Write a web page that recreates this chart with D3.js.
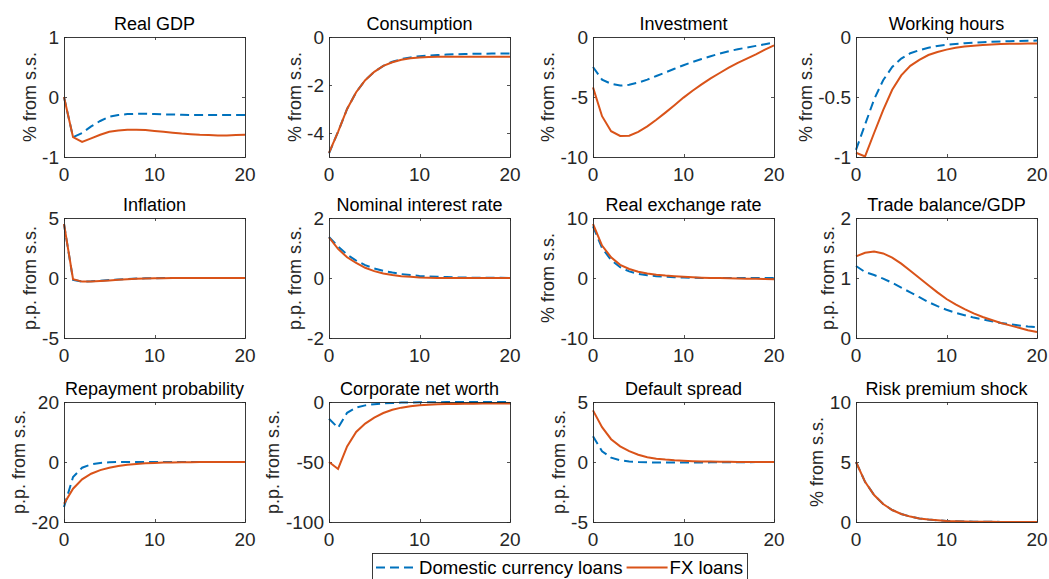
<!DOCTYPE html>
<html>
<head>
<meta charset="utf-8">
<script src="https://cdn.jsdelivr.net/npm/d3@7"></script>
<style>
  body { margin: 0; background: #fff; }
  svg { display: block; font-family: "Liberation Sans", Arial, Helvetica, sans-serif; }
</style>
</head>
<body>
<div id="chart"></div>
<script>
// horizon (quarters after the shock)
var horizon = [0,1,2,3,4,5,6,7,8,9,10,11,12,13,14,15,16,17,18,19,20];

var titles = ["Real GDP", "Consumption", "Investment", "Working hours",
  "Inflation", "Nominal interest rate", "Real exchange rate", "Trade balance/GDP",
  "Repayment probability", "Corporate net worth", "Default spread", "Risk premium shock"];

var yLabels = ["% from s.s.", "% from s.s.", "% from s.s.", "% from s.s.",
  "p.p. from s.s.", "p.p. from s.s.", "% from s.s.", "p.p. from s.s.",
  "p.p. from s.s.", "p.p. from s.s.", "p.p. from s.s.", "% from s.s."];

var yDomains = [[-1, 1], [-5, 0], [-10, 0], [-1, 0],
  [-5, 5], [-2, 2], [-10, 10], [0, 2],
  [-20, 20], [-100, 0], [-5, 5], [0, 10]];

var yTicks = [[-1, 0, 1], [-4, -2, 0], [-10, -5, 0], [-1, -0.5, 0],
  [-5, 0, 5], [-2, 0, 2], [-10, 0, 10], [0, 1, 2],
  [-20, 0, 20], [-100, -50, 0], [-5, 0, 5], [0, 5, 10]];

var xTicks = [0, 10, 20];
var seriesNames = ["Domestic currency loans", "FX loans"];

// domestic currency loans
var realGdpDom = [0, -0.67, -0.6, -0.49, -0.4, -0.33, -0.3, -0.285, -0.28, -0.28, -0.285, -0.29, -0.29, -0.295, -0.3, -0.3, -0.3, -0.3, -0.3, -0.3, -0.3];
var consumptionDom = [-4.85, -3.95, -3.0, -2.3, -1.8, -1.45, -1.2, -1.03, -0.92, -0.85, -0.8, -0.77, -0.75, -0.73, -0.72, -0.71, -0.7, -0.7, -0.69, -0.69, -0.69];
var investmentDom = [-2.5, -3.55, -3.9, -4.05, -3.98, -3.8, -3.55, -3.25, -2.95, -2.65, -2.35, -2.08, -1.83, -1.6, -1.38, -1.18, -1.02, -0.88, -0.74, -0.6, -0.45];
var hoursDom = [-0.94, -0.73, -0.52, -0.36, -0.25, -0.18, -0.135, -0.11, -0.09, -0.075, -0.065, -0.058, -0.052, -0.047, -0.043, -0.04, -0.037, -0.035, -0.033, -0.031, -0.03];
var inflationDom = [4.5, -0.15, -0.3, -0.28, -0.22, -0.17, -0.12, -0.08, -0.05, -0.03, -0.02, -0.01, 0, 0, 0, 0, 0, 0, 0, 0, 0];
var nominalDom = [1.37, 1.05, 0.78, 0.58, 0.43, 0.32, 0.24, 0.18, 0.13, 0.1, 0.07, 0.05, 0.04, 0.03, 0.02, 0.015, 0.01, 0.01, 0.005, 0.005, 0];
var rerDom = [8.6, 5.0, 3.0, 1.8, 1.1, 0.7, 0.45, 0.3, 0.2, 0.12, 0.07, 0.04, 0.02, 0.01, 0, 0, 0, 0, 0, 0, 0];
var tradeDom = [1.2, 1.1, 1.05, 0.99, 0.92, 0.84, 0.76, 0.68, 0.6, 0.53, 0.47, 0.42, 0.38, 0.34, 0.31, 0.28, 0.25, 0.23, 0.21, 0.19, 0.18];
var repayDom = [-15, -5, -1.9, -0.8, -0.3, -0.1, 0, 0, 0, 0, 0, 0, 0, 0, 0, 0, 0, 0, 0, 0, 0];
var netWorthDom = [-14, -21.5, -9, -4.7, -2.8, -1.8, -1.2, -0.8, -0.5, -0.35, -0.25, -0.2, -0.15, -0.1, -0.1, -0.05, -0.05, 0, 0, 0, 0];
var spreadDom = [2.15, 0.9, 0.36, 0.15, 0.05, 0, -0.03, -0.05, -0.05, -0.05, -0.05, -0.04, -0.04, -0.03, -0.03, -0.02, -0.02, -0.02, -0.01, -0.01, -0.01];
var riskDom = [5.0, 3.35, 2.25, 1.5, 1.0, 0.67, 0.45, 0.3, 0.2, 0.14, 0.09, 0.06, 0.04, 0.03, 0.02, 0.013, 0.009, 0.006, 0.004, 0.003, 0.002];

// FX loans
var realGdpFx = [0, -0.67, -0.75, -0.69, -0.63, -0.58, -0.56, -0.545, -0.545, -0.55, -0.565, -0.58, -0.595, -0.61, -0.62, -0.63, -0.635, -0.64, -0.64, -0.635, -0.63];
var consumptionFx = [-4.83, -3.95, -3.0, -2.3, -1.8, -1.45, -1.2, -1.05, -0.95, -0.89, -0.85, -0.83, -0.82, -0.82, -0.82, -0.82, -0.82, -0.82, -0.82, -0.82, -0.82];
var investmentFx = [-4.2, -6.6, -7.85, -8.25, -8.22, -7.9, -7.45, -6.9, -6.3, -5.68, -5.05, -4.48, -3.95, -3.45, -3.0, -2.55, -2.15, -1.8, -1.45, -1.05, -0.7];
var hoursFx = [-0.965, -0.995, -0.8, -0.61, -0.44, -0.32, -0.24, -0.19, -0.15, -0.125, -0.105, -0.09, -0.08, -0.072, -0.066, -0.062, -0.059, -0.057, -0.056, -0.055, -0.055];
var inflationFx = [4.5, -0.1, -0.3, -0.3, -0.25, -0.2, -0.15, -0.1, -0.07, -0.05, -0.03, -0.02, -0.01, 0, 0, 0, 0, 0, 0, 0, 0];
var nominalFx = [1.35, 0.97, 0.69, 0.5, 0.34, 0.23, 0.15, 0.1, 0.06, 0.04, 0.02, 0.01, 0, 0, 0, 0, 0, 0, 0, 0, 0];
var rerFx = [9.0, 5.4, 3.45, 2.2, 1.5, 1.05, 0.75, 0.55, 0.4, 0.3, 0.2, 0.12, 0.06, 0.02, 0, -0.04, -0.08, -0.11, -0.14, -0.17, -0.2];
var tradeFx = [1.36, 1.42, 1.44, 1.41, 1.34, 1.24, 1.12, 1.0, 0.88, 0.76, 0.65, 0.56, 0.48, 0.41, 0.35, 0.3, 0.25, 0.21, 0.17, 0.13, 0.1];
var repayFx = [-13.9, -8.9, -5.8, -3.9, -2.7, -1.9, -1.35, -0.95, -0.65, -0.45, -0.3, -0.2, -0.13, -0.08, -0.05, -0.03, -0.02, -0.01, 0, 0, 0];
var netWorthFx = [-50, -55.8, -37, -25, -18, -13, -9.2, -6.5, -4.7, -3.5, -2.7, -2.2, -1.9, -1.7, -1.6, -1.5, -1.4, -1.3, -1.3, -1.2, -1.2];
var spreadFx = [4.3, 2.9, 1.9, 1.3, 0.9, 0.6, 0.4, 0.28, 0.2, 0.14, 0.1, 0.07, 0.05, 0.04, 0.03, 0.02, 0.01, 0.01, 0, 0, 0];
var riskFx = [5.0, 3.35, 2.25, 1.5, 1.0, 0.67, 0.45, 0.3, 0.2, 0.14, 0.09, 0.06, 0.04, 0.03, 0.02, 0.013, 0.009, 0.006, 0.004, 0.003, 0.002];

var domSeries = [realGdpDom, consumptionDom, investmentDom, hoursDom, inflationDom, nominalDom,
  rerDom, tradeDom, repayDom, netWorthDom, spreadDom, riskDom];
var fxSeries = [realGdpFx, consumptionFx, investmentFx, hoursFx, inflationFx, nominalFx,
  rerFx, tradeFx, repayFx, netWorthFx, spreadFx, riskFx];

// ---- layout ----
var width = 1049, height = 579;
var colLeft = [64, 329, 593, 856], rowTop = [37, 218, 402];
var plotW = 181, plotH = 120;
var blue = "#0072BD", red = "#D95319", axisColor = "#262626";
var tickLen = 3;

var svg = d3.select("#chart").append("svg")
    .attr("width", width)
    .attr("height", height);

svg.append("rect").attr("width", width).attr("height", height).attr("fill", "#fff");

titles.forEach(function(title, i) {
  var left = colLeft[i % 4], top = rowTop[Math.floor(i / 4)];
  var x = d3.scaleLinear().domain([0, 20]).range([0, plotW]);
  var y = d3.scaleLinear().domain(yDomains[i]).range([plotH, 0]);

  var g = svg.append("g").attr("transform", "translate(" + left + "," + top + ")");

  // ticks on all four sides, pointing inward
  var ticks = g.append("g").attr("stroke", axisColor).attr("stroke-width", 0.8);
  xTicks.forEach(function(t) {
    var px = Math.round(x(t)) + 0.5;
    ticks.append("line").attr("x1", px).attr("x2", px).attr("y1", plotH).attr("y2", plotH - tickLen);
    ticks.append("line").attr("x1", px).attr("x2", px).attr("y1", 0).attr("y2", tickLen);
  });
  yTicks[i].forEach(function(t) {
    var py = Math.round(y(t)) + 0.5;
    ticks.append("line").attr("x1", 0).attr("x2", tickLen).attr("y1", py).attr("y2", py);
    ticks.append("line").attr("x1", plotW).attr("x2", plotW - tickLen).attr("y1", py).attr("y2", py);
  });

  // series: domestic first, FX on top
  var line = d3.line()
      .x(function(d, k) { return x(horizon[k]); })
      .y(function(d) { return y(d); });

  g.append("path")
      .datum(domSeries[i])
      .attr("d", line)
      .attr("fill", "none")
      .attr("stroke", blue)
      .attr("stroke-width", 2)
      .attr("stroke-dasharray", "9,5");

  g.append("path")
      .datum(fxSeries[i])
      .attr("d", line)
      .attr("fill", "none")
      .attr("stroke", red)
      .attr("stroke-width", 2);

  // box
  g.append("rect")
      .attr("x", 0.5).attr("y", 0.5)
      .attr("width", plotW).attr("height", plotH)
      .attr("fill", "none")
      .attr("stroke", axisColor)
      .attr("stroke-width", 0.9);

  // tick labels
  g.append("g").selectAll("text")
    .data(xTicks)
    .enter().append("text")
      .attr("x", function(d) { return x(d); })
      .attr("y", plotH + 11)
      .attr("dy", "0.71em")
      .attr("text-anchor", "middle")
      .attr("font-size", 19)
      .attr("fill", axisColor)
      .text(function(d) { return d; });

  var yLab = g.append("g");
  yLab.selectAll("text")
    .data(yTicks[i])
    .enter().append("text")
      .attr("x", -5)
      .attr("y", function(d) { return y(d); })
      .attr("dy", "0.35em")
      .attr("text-anchor", "end")
      .attr("font-size", 19)
      .attr("fill", axisColor)
      .text(function(d) { return d; });

  var minX = yLab.node().getBBox().x;

  g.append("text")
      .attr("transform", "translate(" + (minX - 13) + "," + (plotH / 2) + ") rotate(-90)")
      .attr("dy", "0.36em")
      .attr("text-anchor", "middle")
      .attr("font-size", 18)
      .attr("fill", axisColor)
      .text(yLabels[i]);

  g.append("text")
      .attr("x", plotW / 2)
      .attr("y", -7)
      .attr("text-anchor", "middle")
      .attr("font-size", 18)
      .attr("fill", "#000")
      .text(title);
});

// legend
var legend = svg.append("g").attr("transform", "translate(372,553)");
var legendBox = legend.append("rect")
    .attr("x", 0.5).attr("y", 0.5)
    .attr("height", 34)
    .attr("fill", "#fff")
    .attr("stroke", axisColor)
    .attr("stroke-width", 0.9);

var cursor = 4;
seriesNames.forEach(function(name, k) {
  legend.append("line")
      .attr("x1", cursor).attr("x2", cursor + 41)
      .attr("y1", 14.5).attr("y2", 14.5)
      .attr("stroke", k === 0 ? blue : red)
      .attr("stroke-width", 2)
      .attr("stroke-dasharray", k === 0 ? "9,5" : null);
  var t = legend.append("text")
      .attr("x", cursor + 43)
      .attr("y", 21)
      .attr("font-size", 18.6)
      .attr("fill", "#000")
      .text(name);
  cursor += 43 + t.node().getComputedTextLength() + 4;
});
legendBox.attr("width", cursor);
</script>
</body>
</html>
